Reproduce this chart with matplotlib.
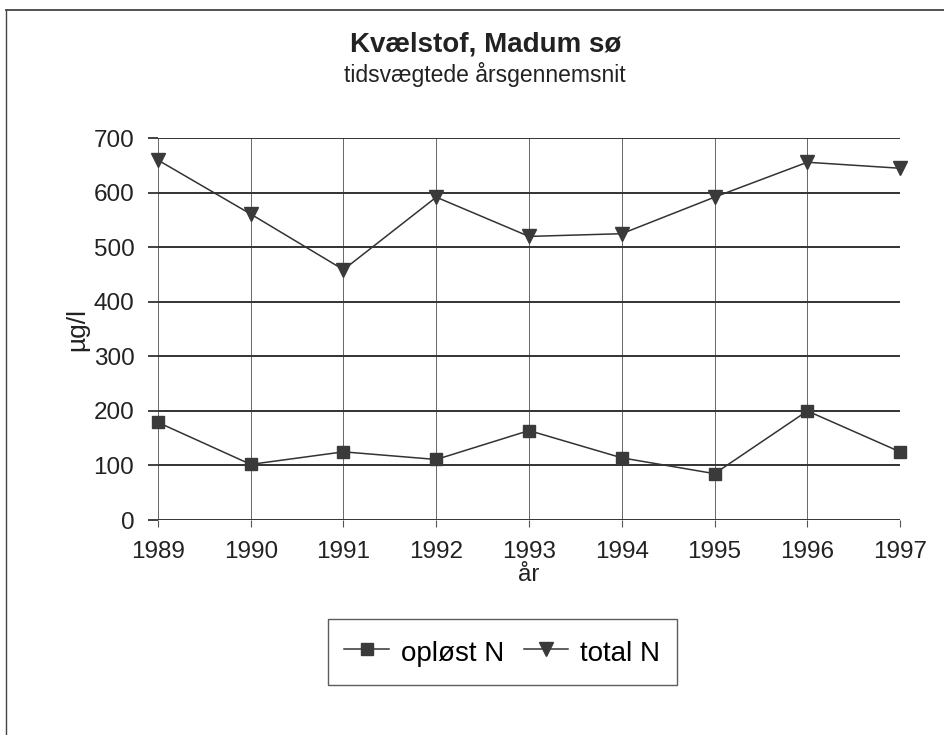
import matplotlib.pyplot as plt
from matplotlib.lines import Line2D

plt.rcParams['font.family'] = ['Liberation Sans', 'DejaVu Sans']

# data
years = [1989, 1990, 1991, 1992, 1993, 1994, 1995, 1996, 1997]
oploest_n = [179, 102, 125, 111, 164, 114, 85, 200, 125]
total_n = [660, 561, 459, 592, 520, 525, 592, 656, 645]
y_ticks = [0, 100, 200, 300, 400, 500, 600, 700]

dark = '#333333'
txt = '#222222'

fig = plt.figure(figsize=(9.44, 7.35), dpi=100)
ax = fig.add_axes([0.1673, 0.2925, 0.7862, 0.5194])

ax.plot(years, oploest_n, color=dark, lw=1.1, marker='s', ms=9,
        mfc='#3a3a3a', mec='#3a3a3a', label='opløst N', clip_on=False, zorder=3)
ax.plot(years, total_n, color=dark, lw=1.1, marker='v', ms=10,
        mfc='#3a3a3a', mec='#3a3a3a', label='total N', clip_on=False, zorder=3)

ax.set_xlim(1989, 1997)
ax.set_ylim(0, 700)
ax.set_xticks(years)
ax.set_yticks(y_ticks)
ax.tick_params(axis='both', labelsize=17.5, labelcolor=txt)
ax.tick_params(axis='y', length=7, width=1.3, color=dark, pad=10)
ax.tick_params(axis='x', length=5, width=0.8, color='#555555', pad=10)

for s in ax.spines.values():
    s.set_visible(False)
ax.grid(axis='y', color=dark, lw=1.4)
ax.grid(axis='x', color='#666666', lw=0.7)
ax.set_axisbelow(True)

ax.set_xlabel('år', fontsize=17.5, labelpad=1, color=txt)
ax.set_ylabel('µg/l', fontsize=19, labelpad=3, color=txt)

fig.text(0.514, 0.940, 'Kvælstof, Madum sø', ha='center', va='center',
         fontsize=20, fontweight='bold', color=txt)
fig.text(0.514, 0.899, 'tidsvægtede årsgennemsnit', ha='center', va='center',
         fontsize=16.5, color=txt)

leg = ax.legend(loc='center', bbox_to_anchor=(0.532, 0.113),
                bbox_transform=fig.transFigure, ncol=2, fontsize=20,
                frameon=True, fancybox=False, edgecolor=dark,
                handlelength=1.6, handletextpad=0.43, columnspacing=0.7,
                borderpad=0.6, handleheight=1.4)
leg.get_frame().set_linewidth(1.0)

# outer border of the chart (left and top edges visible in the scan)
fig.add_artist(Line2D([0.006, 0.006], [0.0, 0.986], color='#444444', lw=1.0))
fig.add_artist(Line2D([0.006, 1.0], [0.986, 0.986], color='#444444', lw=1.3))

fig.savefig('out.png', dpi=100)
